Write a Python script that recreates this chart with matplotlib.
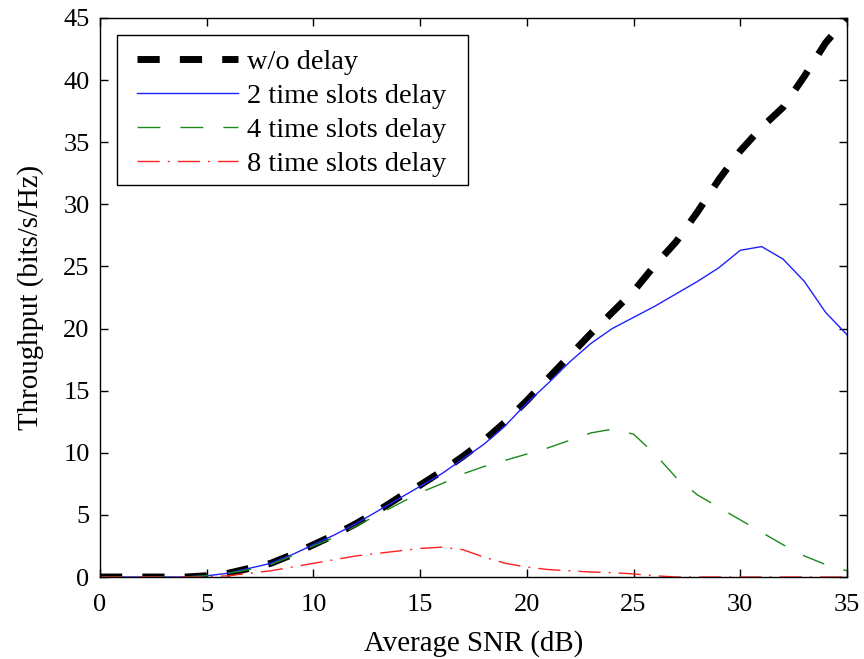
import matplotlib
matplotlib.use("Agg")
import matplotlib.pyplot as plt
from matplotlib.patches import Rectangle

plt.rcParams['font.family'] = ['Liberation Serif', 'DejaVu Serif']
plt.rcParams['mathtext.fontset'] = 'stix'

snr_db = list(range(0, 36))

no_delay = [0, 0, 0, 0, 0, 0.1, 0.3, 0.7, 1.1, 1.8, 2.6, 3.4, 4.3, 5.3, 6.4, 7.4,
            8.5, 9.7, 11.0, 12.5, 14.2, 16.0, 17.8, 19.6, 21.3, 23.0, 25.1, 27.0,
            29.4, 32.0, 34.3, 36.2, 37.8, 40.3, 43.0, 45.0]

delay_2 = [0, 0, 0, 0, 0, 0.1, 0.3, 0.7, 1.1, 1.8, 2.6, 3.4, 4.3, 5.3, 6.3, 7.3,
           8.3, 9.5, 10.7, 12.2, 14.0, 15.6, 17.3, 18.8, 20.0, 20.9, 21.8, 22.8,
           23.8, 24.9, 26.3, 26.6, 25.6, 23.8, 21.3, 19.5]

delay_4 = [0, 0, 0, 0, 0, 0.1, 0.3, 0.6, 1.0, 1.7, 2.5, 3.2, 4.1, 5.0, 5.9, 6.8,
           7.5, 8.3, 8.9, 9.4, 9.9, 10.4, 11.0, 11.6, 11.9, 11.5, 9.9, 8.0,
           6.6, 5.6, 4.6, 3.6, 2.6, 1.7, 1.0, 0.5]

delay_8 = [0, 0, 0, 0, 0, 0, 0.1, 0.3, 0.5, 0.8, 1.1, 1.4, 1.7, 1.9, 2.1, 2.3,
           2.4, 2.2, 1.6, 1.1, 0.8, 0.6, 0.5, 0.4, 0.35, 0.25, 0.1, 0, 0, 0,
           0, 0, 0, 0, 0, 0]

labels = ['w/o delay', '2 time slots delay', '4 time slots delay', '8 time slots delay']

fig = plt.figure(figsize=(8.64, 6.59), dpi=100)
ax = fig.add_axes([0.1157, 0.1244, 0.8646, 0.8483])

ax.plot(snr_db, no_delay, color='black', linestyle=(0, (3.2, 2.9)), linewidth=5.0, label=labels[0])
ax.plot(snr_db, delay_2, color='#2020ff', linestyle='-', linewidth=1.0, label=labels[1])
ax.plot(snr_db, delay_4, color='#1a8a1a', linestyle=(0, (16.5, 14.4)), linewidth=1.0, label=labels[2])
ax.plot(snr_db, delay_8, color='#ff2020', linestyle=(0, (16, 5.8, 1.4, 5.8)), linewidth=1.0, label=labels[3])

ax.set_xlim(0, 35)
ax.set_ylim(0, 45)
ax.set_xticks(range(0, 36, 5))
ax.set_yticks(range(0, 46, 5))
ax.tick_params(direction='in', top=True, right=True, labelsize=19, length=6, width=1)
ax.tick_params(axis='x', pad=12.5)
ax.tick_params(axis='y', pad=7.5)
for s in ax.spines.values():
    s.set_linewidth(1.0)

ax.set_xlabel('Average SNR (dB)', fontsize=20.8, labelpad=10)
ax.set_ylabel('Throughput (bits/s/Hz)', fontsize=20.8, labelpad=14)

# legend entries without their own frame; the box is drawn separately
leg = ax.legend(loc='upper left', fontsize=20.4, frameon=False,
                handlelength=3.55, handletextpad=0.35,
                labelspacing=0.29, borderpad=0, borderaxespad=0,
                bbox_to_anchor=(0.0495, 0.9445))
ax.add_patch(Rectangle((0.0228, 0.7013), 0.4699, 0.2683, transform=ax.transAxes,
                       facecolor='white', edgecolor='black', linewidth=1.0, zorder=4))
leg.set_zorder(5)

fig.savefig('out.png', dpi=100)
